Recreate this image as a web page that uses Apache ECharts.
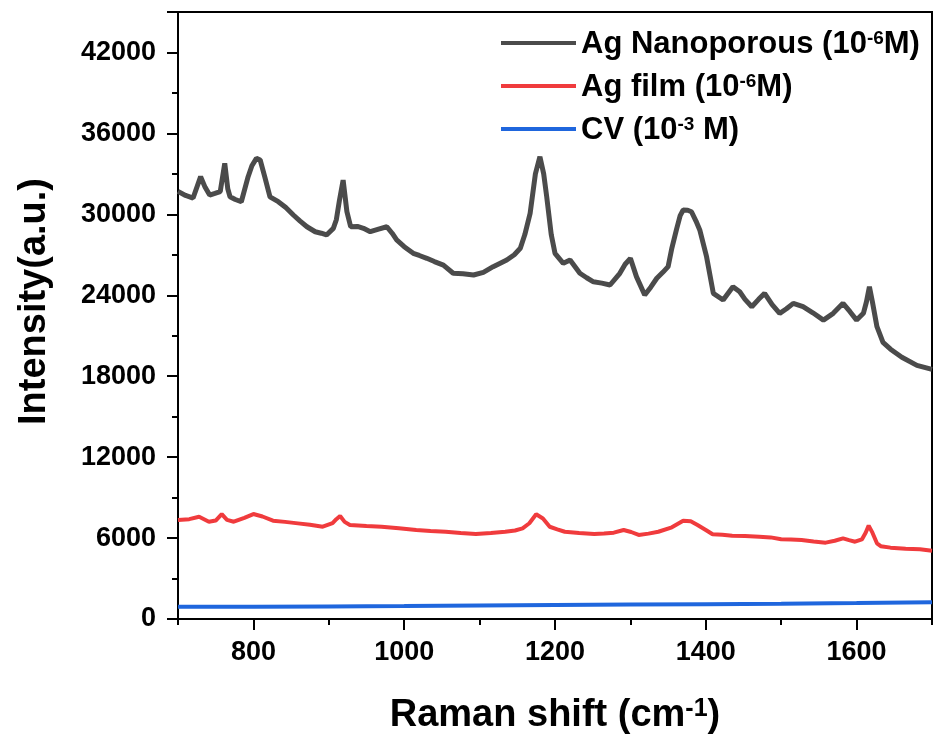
<!DOCTYPE html>
<html>
<head>
<meta charset="utf-8">
<script src="https://cdn.jsdelivr.net/npm/echarts@6/dist/echarts.min.js"></script>
<style>
html,body{margin:0;padding:0;background:#fff;}
#c{width:933px;height:742px;}
</style>
</head>
<body>
<div id="c"></div>
<script>
// ---- data ----
var seriesNames = ['Ag Nanoporous (10-6M)', 'Ag film (10-6M)', 'CV (10-3 M)'];
var xTicks = [800, 1000, 1200, 1400, 1600];
var xMinorTicks = [700, 900, 1100, 1300, 1500, 1700];
var yTicks = [0, 6000, 12000, 18000, 24000, 30000, 36000, 42000];

var nanoX = [700,710,720,730,736,742,749,756,758,762,766,769,776,784,793,798,804,809,815,822,833,843,853,862,871,882,890,897,906,910,914,919,924,929,938,946,955,966,977,984,990,1000,1012,1020,1030,1040,1052,1065,1078,1092,1105,1118,1136,1146,1154,1160,1167,1174,1180,1185,1189,1195,1200,1211,1220,1233,1242,1251,1262,1273,1286,1293,1300,1308,1319,1327,1335,1343,1350,1355,1361,1366,1370,1376,1381,1387,1392,1401,1410,1423,1436,1445,1452,1461,1470,1478,1488,1498,1507,1516,1529,1542,1556,1569,1582,1591,1600,1609,1613,1617,1621,1627,1635,1645,1660,1680,1700];
var nanoY = [31700,31400,31210,32790,32000,31430,31550,31680,31800,33780,31900,31300,31100,30935,32790,33600,34150,34030,32800,31300,30935,30500,29950,29500,29080,28710,28600,28470,28960,29600,31000,32540,30200,29080,29100,28960,28710,28900,29080,28600,28100,27600,27110,26950,26740,26500,26240,25630,25600,25500,25700,26120,26610,27000,27480,28500,30075,33000,34270,33000,31300,28500,27110,26370,26610,25630,25300,25000,24900,24760,25630,26300,26740,25380,24020,24600,25260,25700,26120,27500,28840,29900,30320,30300,30190,29500,28840,26860,24140,23650,24630,24260,23700,23150,23700,24140,23300,22660,23000,23400,23150,22700,22160,22660,23400,22800,22160,22660,23500,24630,23500,21670,20500,20000,19400,18800,18500];

var filmX = [700,715,728,741,750,758,765,774,788,800,812,826,842,859,875,892,905,910,915,921,928,950,970,993,1016,1035,1055,1075,1095,1115,1134,1147,1157,1166,1175,1184,1193,1203,1213,1232,1252,1265,1278,1291,1301,1311,1324,1337,1355,1370,1380,1389,1400,1409,1422,1435,1452,1471,1486,1500,1513,1527,1543,1559,1571,1582,1590,1598,1607,1612,1616,1621,1627,1632,1645,1665,1684,1700];
var filmY = [7340,7400,7580,7210,7300,7780,7350,7210,7500,7780,7600,7290,7200,7090,6980,6840,7100,7400,7640,7200,6970,6900,6840,6720,6600,6530,6470,6380,6300,6380,6470,6560,6720,7100,7760,7450,6840,6650,6470,6380,6300,6330,6400,6600,6450,6230,6330,6470,6800,7290,7250,6970,6600,6280,6250,6180,6150,6100,6050,5910,5900,5860,5750,5660,5800,5980,5850,5730,5900,6400,6920,6400,5610,5400,5290,5200,5170,5060];

var cvX = [700,800,900,1000,1100,1200,1300,1400,1500,1600,1700];
var cvY = [900,910,930,960,1000,1040,1080,1100,1130,1180,1250];

function pairs(xs, ys){ var out=[]; for(var i=0;i<xs.length;i++) out.push([xs[i], ys[i]]); return out; }

var chart = echarts.init(document.getElementById('c'));
var font = '"Liberation Sans", Arial, sans-serif';

var legendRich = {
  a: {fontFamily: font, fontWeight: 'bold', fontSize: 31, color: '#000', lineHeight: 34, verticalAlign: 'bottom'},
  s: {fontFamily: font, fontWeight: 'bold', fontSize: 19, color: '#000', lineHeight: 34, verticalAlign: 'top', padding: [3,0,0,0]}
};
function legendFmt(name){
  var m = name.match(/^(.*\(10)(-\d)(.*)$/);
  if(!m) return '{a|' + name + '}';
  return '{a|' + m[1] + '}{s|' + m[2] + '}{a|' + m[3] + '}';
}

var option = {
  animation: false,
  backgroundColor: '#fff',
  grid: {left: 178, right: 1, top: 12, bottom: 123, show: true, borderColor: '#000', borderWidth: 2, containLabel: false},
  legend: {
    data: seriesNames,
    orient: 'vertical',
    left: 496, top: 21,
    icon: 'rect', itemWidth: 75, itemHeight: 4, itemGap: 9,
    formatter: legendFmt,
    textStyle: {rich: legendRich, fontSize: 31, fontWeight: 'bold', fontFamily: font, color: '#000'}
  },
  xAxis: [{
    type: 'value', min: 700, max: 1700,
    name: 'Raman shift (cm{s|-1})',
    nameLocation: 'middle', nameGap: 78,
    nameTextStyle: {
      fontFamily: font, fontWeight: 'bold', fontSize: 38, color: '#000',
      rich: {s: {fontFamily: font, fontWeight: 'bold', fontSize: 25, color: '#000', verticalAlign: 'top', lineHeight: 25}}
    },
    axisLine: {show: true, lineStyle: {color: '#000', width: 2}},
    axisTick: {show: true, inside: false, length: 11, lineStyle: {color: '#000', width: 2}, customValues: xTicks},
    axisLabel: {show: true, margin: 20, fontFamily: font, fontWeight: 'bold', fontSize: 27, color: '#000', customValues: xTicks,
      formatter: function(v){ return String(v); }},
    splitLine: {show: false}
  }, {
    type: 'value', min: 700, max: 1700, position: 'bottom',
    axisLine: {show: false},
    axisTick: {show: true, inside: false, length: 6, lineStyle: {color: '#000', width: 2}, customValues: xMinorTicks},
    axisLabel: {show: false, customValues: xMinorTicks},
    splitLine: {show: false}
  }],
  yAxis: {
    type: 'value', min: 0, max: 45000, interval: 6000,
    name: 'Intensity(a.u.)',
    nameLocation: 'middle', nameGap: 124,
    nameTextStyle: {fontFamily: font, fontWeight: 'bold', fontSize: 38, color: '#000', padding: [0, 0, 0, 28]},
    axisLine: {show: true, lineStyle: {color: '#000', width: 2}},
    axisTick: {show: true, inside: false, length: 11, lineStyle: {color: '#000', width: 2}},
    minorTick: {show: true, splitNumber: 2, length: 6, lineStyle: {color: '#000', width: 2}},
    axisLabel: {margin: 22, showMaxLabel: false, fontFamily: font, fontWeight: 'bold', fontSize: 27, color: '#000',
      formatter: function(v){ return String(v); }},
    splitLine: {show: false}
  },
  series: [
    {name: seriesNames[0], type: 'line', symbol: 'none', data: pairs(nanoX, nanoY),
     lineStyle: {color: '#4b4b4b', width: 5}, itemStyle: {color: '#4b4b4b'}, z: 3},
    {name: seriesNames[1], type: 'line', symbol: 'none', data: pairs(filmX, filmY),
     lineStyle: {color: '#f03b3d', width: 4}, itemStyle: {color: '#f03b3d'}, z: 2},
    {name: seriesNames[2], type: 'line', symbol: 'none', data: pairs(cvX, cvY),
     lineStyle: {color: '#1f66dd', width: 4}, itemStyle: {color: '#1f66dd'}, z: 1}
  ]
};
chart.setOption(option);
</script>
</body>
</html>
